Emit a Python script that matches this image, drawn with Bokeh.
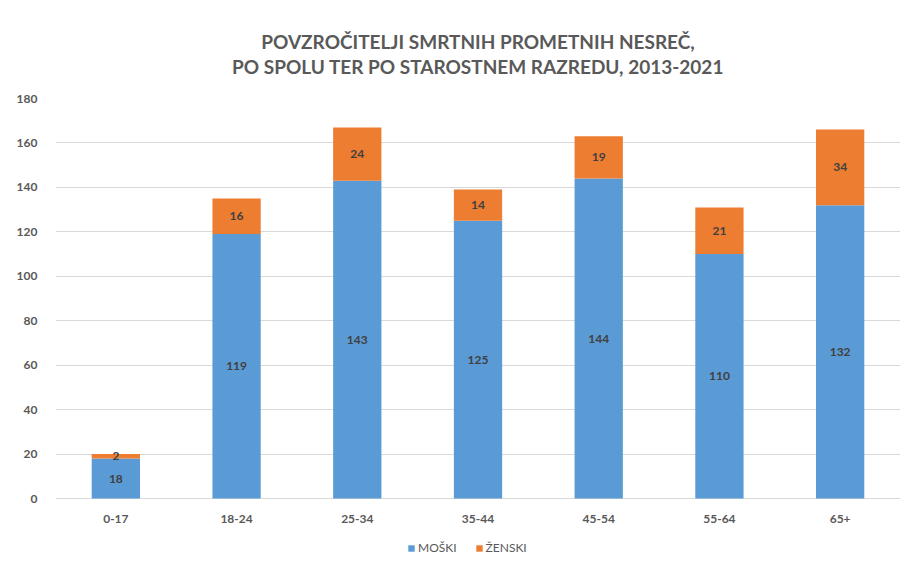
from bokeh.plotting import figure
from bokeh.models import ColumnDataSource, LabelSet, Title, Legend, LegendItem, FactorRange, Range1d
from bokeh.embed import file_html
from bokeh.resources import INLINE
from bokeh.core.properties import value

categories = ["0-17", "18-24", "25-34", "35-44", "45-54", "55-64", "65+"]
moski = [18, 119, 143, 125, 144, 110, 132]
zenski = [2, 16, 24, 14, 19, 21, 34]
y_ticks = [0, 20, 40, 60, 80, 100, 120, 140, 160, 180]

BLUE = "#5B9BD5"
ORANGE = "#ED7D31"
FONT = "Lato"

src = ColumnDataSource(dict(
    cat=categories,
    moski=moski,
    zenski=zenski,
    m_mid=[m / 2 for m in moski],
    z_mid=[m + z / 2 for m, z in zip(moski, zenski)],
    m_txt=[str(v) for v in moski],
    z_txt=[str(v) for v in zenski],
))

# frame runs to the bottom edge so the legend below the bars is not clipped
p = figure(width=905, height=566, x_range=FactorRange(*categories, range_padding=0),
           y_range=Range1d(-30.6, 180), output_backend="svg", toolbar_location=None,
           x_axis_location=None,
           min_border_left=55, min_border_right=5, min_border_top=98, min_border_bottom=0)
p.x_range.factor_padding = 0

r = p.vbar_stack(["moski", "zenski"], x="cat", width=0.4, source=src,
                 color=[BLUE, ORANGE], line_color=None)

for col, txt in (("m_mid", "m_txt"), ("z_mid", "z_txt")):
    p.add_layout(LabelSet(x="cat", y=col, text=txt, source=src, text_align="center",
                          text_baseline="middle", text_font=value(FONT), text_font_style="bold",
                          text_font_size="12px", text_color="#404040"))

# category labels under the zero line
p.add_layout(LabelSet(x="cat", y=0, text="cat", source=src, y_offset=-20,
                      text_align="center", text_baseline="middle", text_font=value(FONT),
                      text_font_style="bold", text_font_size="12px", text_color="#595959"))

p.outline_line_color = None
p.xgrid.grid_line_color = None
p.ygrid.grid_line_color = "#D9D9D9"
p.ygrid.grid_line_width = 1
p.yaxis.ticker = y_ticks
ax = p.yaxis[0]
ax.axis_line_color = None
ax.major_tick_line_color = None
ax.minor_tick_line_color = None
ax.major_label_text_font = FONT
ax.major_label_text_font_style = "bold"
ax.major_label_text_font_size = "12px"
ax.major_label_text_color = "#595959"
ax.major_label_standoff = 12

title = Title(text="POVZROČITELJI SMRTNIH PROMETNIH NESREČ,\nPO SPOLU TER PO STAROSTNEM RAZREDU, 2013-2021",
              align="center", text_align="center", text_font=FONT, text_font_size="19px",
              text_font_style="bold", text_color="#595959", standoff=40, text_line_height=1.1)
p.add_layout(title, "above")

legend = Legend(items=[LegendItem(label="MOŠKI", renderers=[r[0]]),
                       LegendItem(label="ŽENSKI", renderers=[r[1]])],
                orientation="horizontal", location=(352, 11), padding=0, margin=0,
                label_text_font=FONT, label_text_font_size="12px", label_text_color="#595959",
                label_standoff=3, glyph_width=8, glyph_height=8, spacing=18,
                border_line_color=None, background_fill_alpha=0)
p.add_layout(legend, "center")

open("out.html", "w").write(file_html(p, INLINE))
